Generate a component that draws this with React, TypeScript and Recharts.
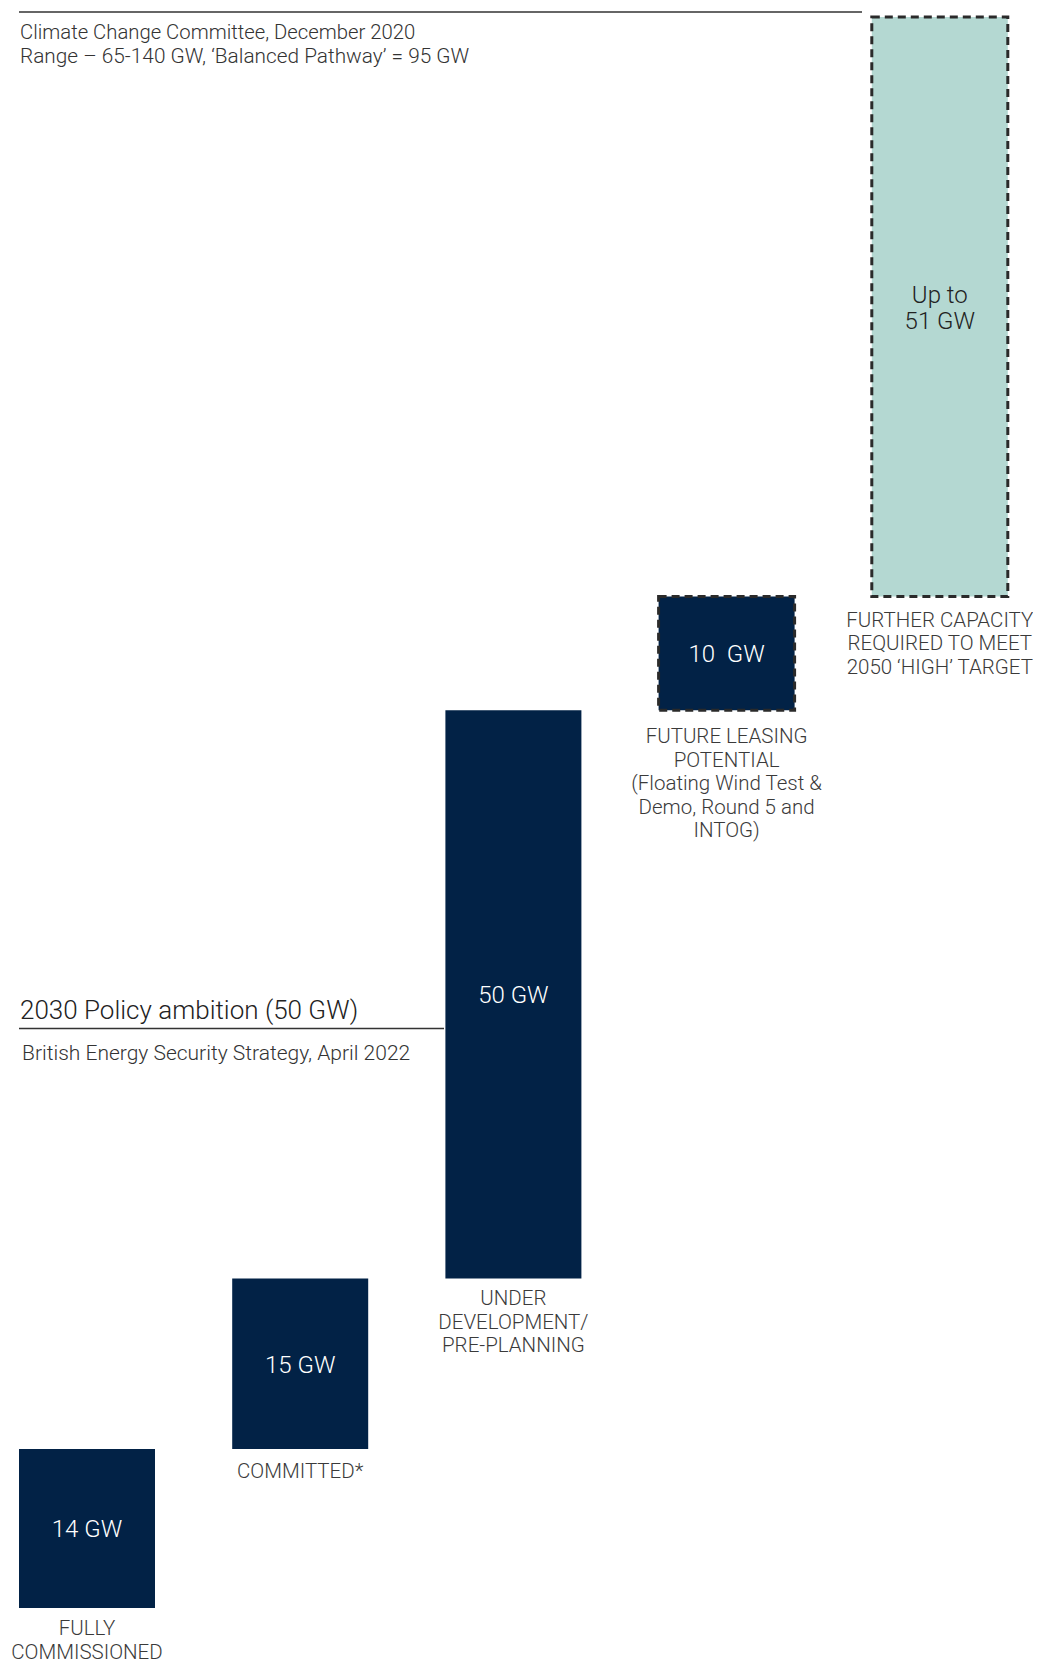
import { BarChart, Bar, XAxis, YAxis, LabelList, ReferenceLine, Rectangle } from "recharts";

// pipeline stages, left to right
const stages = [
  "Fully commissioned",
  "Committed",
  "Under development",
  "Future leasing",
  "Further capacity",
];
const stageLines = [
  ["FULLY", "COMMISSIONED"],
  ["COMMITTED*"],
  ["UNDER", "DEVELOPMENT/", "PRE-PLANNING"],
  ["FUTURE LEASING", "POTENTIAL", "(Floating Wind Test &", "Demo, Round 5 and", "INTOG)"],
  ["FURTHER CAPACITY", "REQUIRED TO MEET", "2050 \u2018HIGH\u2019 TARGET"],
];
const capacityGW = [14, 15, 50, 10, 51];
const valueLabels = [["14 GW"], ["15 GW"], ["50 GW"], ["10\u00a0 GW"], ["Up to", "51 GW"]];

// reference levels
const target2050GW = 140;
const policy2030GW = 51;

// styling
const NAVY = "#022246";
const TEAL = "#b4d8d2";
const barFills = [NAVY, NAVY, NAVY, NAVY, TEAL];
const dashed = [false, false, false, true, true];
const labelColors = ["#fff", "#fff", "#fff", "#fff", "#222"];
const stageGap = [0, 2, 0, 6, 3];

// waterfall: invisible base + visible step
let running = 0;
const data = stages.map((s, i) => {
  const row = { stage: s, base: running, gw: capacityGW[i] };
  running += capacityGW[i];
  return row;
});

const FONT = "Roboto, 'Liberation Sans', sans-serif";

function StepShape(p: any) {
  const d = dashed[p.index];
  return (
    <Rectangle
      x={p.x}
      y={p.y}
      width={p.width}
      height={p.height}
      fill={barFills[p.index]}
      stroke={d ? "#2a2a2a" : "none"}
      strokeWidth={d ? 3 : 0}
      strokeDasharray={d ? "8 5" : undefined}
    />
  );
}

function ValueLabel(p: any) {
  const lines = valueLabels[p.index] || [];
  const cx = p.x + p.width / 2;
  const cy = p.y + p.height / 2;
  const lh = 26;
  const top = cy - ((lines.length - 1) * lh) / 2 + 9;
  return (
    <text textAnchor="middle" fill={labelColors[p.index]} fontFamily={FONT} fontWeight={300} fontSize={24}>
      {lines.map((l, k) => (
        <tspan key={k} x={cx} y={top + k * lh}>
          {l}
        </tspan>
      ))}
    </text>
  );
}

function StageLabel(p: any) {
  const lines = stageLines[p.index] || [];
  const cx = p.x + p.width / 2;
  const top = p.y + p.height + 27 + (stageGap[p.index] || 0);
  return (
    <text textAnchor="middle" fill="#3a3a3a" fontFamily={FONT} fontWeight={300} fontSize={20.5}>
      {lines.map((l, k) => (
        <tspan key={k} x={cx} y={top + k * 23.5}>
          {l}
        </tspan>
      ))}
    </text>
  );
}

function TargetLabel({ viewBox }: any) {
  const x = viewBox.x + 12;
  const y = viewBox.y;
  return (
    <g fontFamily={FONT} fontWeight={300} fill="#333" fontSize={20.3}>
      <text x={x} y={y + 22}>Climate Change Committee, December 2020</text>
      <text x={x} y={y + 46} fontSize={20.8}>
        {"Range \u2013 65-140 GW, \u2018Balanced Pathway\u2019 = 95 GW"}
      </text>
    </g>
  );
}

function PolicyLabel({ viewBox }: any) {
  const x = viewBox.x + 12;
  const y = viewBox.y;
  return (
    <g fontFamily={FONT} fontWeight={300} fill="#222">
      <text x={x} y={y - 9} fontSize={26}>2030 Policy ambition (50 GW)</text>
      <text x={x + 2} y={y + 32} fontSize={21} fill="#333">
        British Energy Security Strategy, April 2022
      </text>
    </g>
  );
}

export default function App() {
  return (
    <div style={{ width: 1033, height: 1651, fontFamily: FONT }}>
      <BarChart
        width={1033}
        height={1651}
        data={data}
        margin={{ top: 9, right: 0, bottom: 51, left: 0 }}
        barCategoryGap={0}
      >
        <XAxis dataKey="stage" hide padding={{ left: -28, right: -5 }} />
        <YAxis hide domain={[0, target2050GW]} />
        <ReferenceLine
          y={target2050GW}
          shape={(p: any) => (
            <line x1={p.x1 + 11} y1={p.y1 - 5} x2={p.x1 + 854} y2={p.y2 - 5} stroke="#333" strokeWidth={1.5} />
          )}
          label={TargetLabel}
        />
        <ReferenceLine
          y={policy2030GW}
          shape={(p: any) => (
            <line x1={p.x1 + 11} y1={p.y1} x2={p.x1 + 436} y2={p.y2} stroke="#333" strokeWidth={1.5} />
          )}
          label={PolicyLabel}
        />
        <Bar dataKey="base" stackId="a" fill="transparent" barSize={136} isAnimationActive={false} />
        <Bar dataKey="gw" stackId="a" barSize={136} shape={StepShape} isAnimationActive={false}>
          <LabelList dataKey="gw" content={ValueLabel} />
          <LabelList dataKey="gw" content={StageLabel} />
        </Bar>
      </BarChart>
    </div>
  );
}
